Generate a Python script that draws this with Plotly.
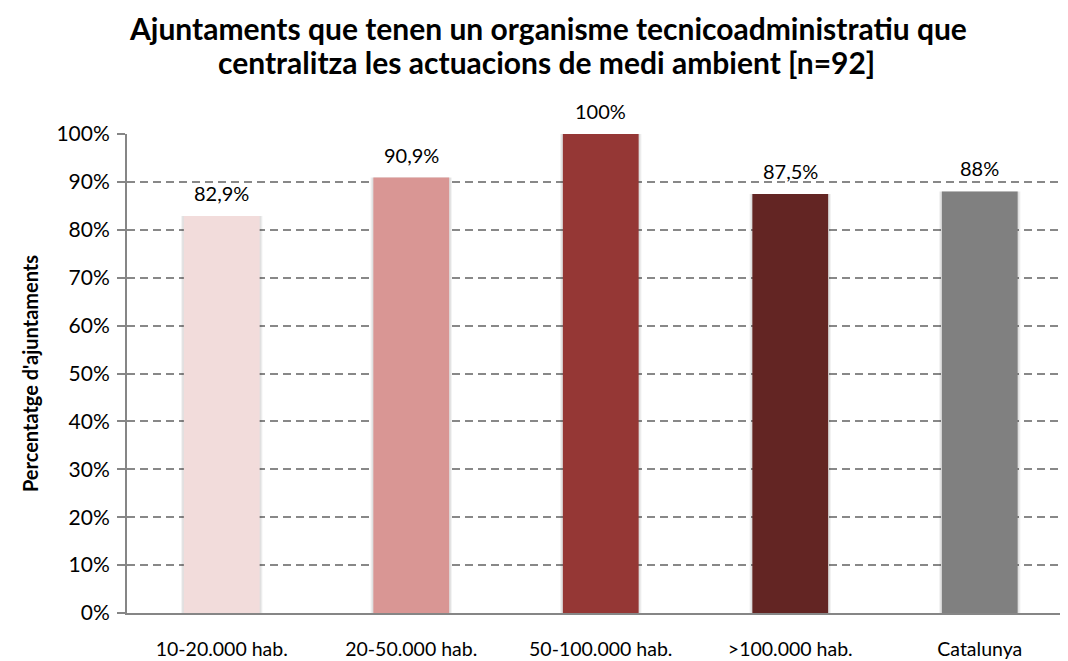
import plotly.graph_objects as go

categories = ["10-20.000 hab.", "20-50.000 hab.", "50-100.000 hab.", ">100.000 hab.", "Catalunya"]
values = [82.9, 90.9, 100, 87.5, 88]
labels = ["82,9%", "90,9%", "100%", "87,5%", "88%"]
colors = ["#F2DCDB", "#D99694", "#953735", "#632523", "#808080"]
tick_vals = [0, 10, 20, 30, 40, 50, 60, 70, 80, 90, 100]
tick_text = [f"{v}%" for v in tick_vals]
title_lines = ["Ajuntaments que tenen un organisme tecnicoadministratiu que",
               "centralitza les actuacions de medi ambient [n=92]"]

font = "Lato"
W, H = 1060, 653          # page body has an 8px margin
L, R, T, B = 119, 6, 126, 48

fig = go.Figure()
# soft shadow layers
for w, a in [(0.43, 0.05), (0.418, 0.07)]:
    fig.add_trace(go.Bar(
        x=categories, y=values, width=w,
        marker=dict(color=f"rgba(0,0,0,{a})", line=dict(width=0)),
        hoverinfo="skip", showlegend=False,
    ))
fig.add_trace(go.Bar(
    x=categories, y=values, width=0.40,
    marker=dict(color=colors, line=dict(width=0)),
    hovertext=labels, showlegend=False,
))

annotations = []
for c, v, t in zip(categories, values, labels):
    annotations.append(dict(
        x=c, y=v, xref="x", yref="y", text=t, showarrow=False,
        yanchor="middle", yshift=23,
        font=dict(family=font, size=20, color="#000000"),
    ))
plot_h = H - T - B
plot_w = W - L - R
for line, ypx, xpx in zip(title_lines, [20, 54], [539.5, 538]):
    annotations.append(dict(
        x=(xpx - L) / plot_w, y=(H - B - ypx) / plot_h, xref="paper", yref="paper",
        text=f"<b>{line}</b>", showarrow=False, xanchor="center", yanchor="middle",
        font=dict(family=font, size=30, color="#000000"),
    ))

fig.update_layout(
    width=W, height=H,
    barmode="overlay",
    paper_bgcolor="white", plot_bgcolor="white",
    margin=dict(l=L, r=R, t=T, b=B, autoexpand=False),
    font=dict(family=font, size=20, color="#000000"),
    annotations=annotations,
)
fig.update_xaxes(
    range=[-0.5, 4.434], automargin=False,
    showgrid=False, showline=True, linecolor="#868686", linewidth=2,
    ticks="", tickfont=dict(family=font, size=19.5, color="#000000"),
    ticklabelstandoff=18,
)
fig.update_yaxes(
    range=[0, 100], tickvals=tick_vals, ticktext=tick_text, automargin=False,
    showgrid=True, gridcolor="#888888", gridwidth=1.5, griddash="8px,5px",
    showline=True, linecolor="#868686", linewidth=2,
    ticks="outside", ticklen=8, tickcolor="#868686", tickwidth=1.5,
    tickfont=dict(family=font, size=21, color="#000000"),
    ticklabelstandoff=3,
    zeroline=False,
    title=dict(text="<b>Percentatge d'ajuntaments</b>", font=dict(family=font, size=20, color="#000000"), standoff=12),
)

fig.write_html("out.html")
